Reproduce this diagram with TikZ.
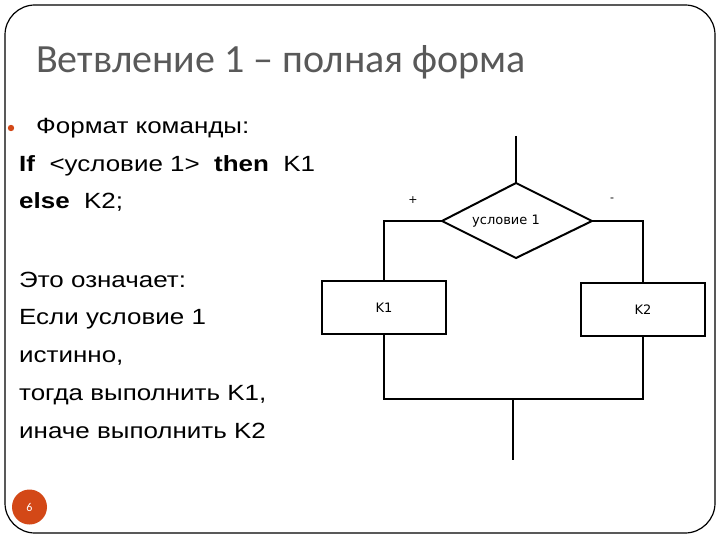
\documentclass[tikz,border=0pt]{standalone}
\usepackage{fontspec}
\setmainfont{Liberation Sans}
\newfontfamily\bodyfont[FakeStretch=1.18]{Liberation Sans}
\newfontfamily\titlefont{Carlito}
\newfontfamily\chartfont{DejaVu Sans}
\definecolor{titlegray}{RGB}{89,89,89}
\definecolor{accent}{RGB}{211,72,23}
\begin{document}
\begin{tikzpicture}[x=1pt,y=-1pt,
  txt/.style={anchor=base west,inner sep=0pt,font=\bodyfont\fontsize{22}{22}\selectfont},
  flow/.style={line width=2pt,black},
  blockbox/.style={draw,line width=2pt,minimum width=124pt,minimum height=53pt,inner sep=0pt,font=\chartfont\fontsize{13}{13}\selectfont},
  cond/.style={draw,line width=2pt,inner sep=0pt},
  sign/.style={inner sep=0pt,font=\chartfont\fontsize{11}{11}\selectfont}]
\useasboundingbox (0,0) rectangle (720,540);
% frame
\draw[line width=1.2pt,rounded corners=30pt] (5,5) rectangle (715,533);
% title
\node[anchor=base west,inner sep=0pt,text=titlegray,font=\titlefont\fontsize{40}{40}\selectfont] (title) at (36,73) {Ветвление 1 – полная форма};
% bullet text
\fill[accent] (11,128) circle (3.2pt);
\node[txt] (l1) at (36,134) {Формат команды:};
\node[txt] (l2) at (19,172) {\textbf{If} \ <условие 1> \ \textbf{then} \ K1};
\node[txt] (l3) at (19,209) {\textbf{else} \ K2;};
\node[txt] (l4) at (19,287) {Это означает:};
\node[txt] (l5) at (19,324) {Если условие 1};
\node[txt] (l6) at (19,362) {истинно,};
\node[txt] (l7) at (19,400) {тогда выполнить K1,};
\node[txt] (l8) at (19,438) {иначе выполнить K2};
% page number
\node[circle,fill=accent,minimum size=35pt,inner sep=0pt,text=white,font=\titlefont\fontsize{12}{12}\selectfont] (pg) at (29.5,507) {6};
% flowchart
\coordinate (top) at (516,136);
\coordinate (dt) at (516,183);
\coordinate (dl) at (442,221);
\coordinate (dr) at (592,221);
\coordinate (db) at (516,258);
\draw[cond] (dt) -- (dr) -- (db) -- (dl) -- cycle;
\node[inner sep=0pt,font=\chartfont\fontsize{13}{13}\selectfont] (c1) at (506,221) {условие 1};
\node[blockbox] (k1) at (384,307.5) {K1};
\node[blockbox] (k2) at (643,309.5) {K2};
\coordinate (jl) at (385,399);
\coordinate (jr) at (643,399);
\coordinate (jm) at (513,399);
\coordinate (bot) at (513,460);
\draw[flow] (top) -- (dt);
\draw[flow] (dl) -| (k1.north);
\draw[flow] (dr) -| (k2.north);
\draw[flow] (k1.south) -- (k1.south |- jl) -- (jr) -- (k2.south);
\draw[flow] (jm) -- (bot);
\node[sign] (plus) at (413,200) {+};
\node[sign] (minus) at (612,200) {-};
\end{tikzpicture}
\end{document}
